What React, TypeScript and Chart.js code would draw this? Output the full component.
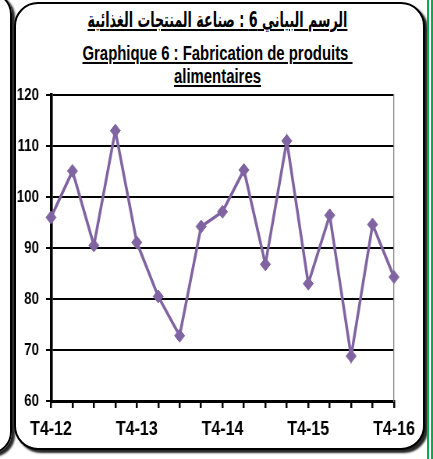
import React, { useEffect, useRef } from 'react';
import { Chart, registerables } from 'chart.js';
Chart.register(...registerables);

const categories = ['T4-12', 'T1-13', 'T2-13', 'T3-13', 'T4-13', 'T1-14', 'T2-14', 'T3-14', 'T4-14', 'T1-15', 'T2-15', 'T3-15', 'T4-15', 'T1-16', 'T2-16', 'T3-16', 'T4-16'];
const values = [96, 105.1, 90.5, 113, 91.1, 80.5, 72.8, 94.2, 97.1, 105.3, 86.8, 111, 83, 96.4, 68.8, 94.6, 84.3];
const shownLabels = ['T4-12', 'T4-13', 'T4-14', 'T4-15', 'T4-16'];
const yMin = 60;
const yMax = 120;
const yStep = 10;
const titleAr = 'الرسم البياني 6 : صناعة المنتجات الغذائية';
const titleFr1 = 'Graphique 6 : Fabrication de produits ';
const titleFr2 = 'alimentaires';

const PURPLE = '#8064A2';
const FONT = "'Liberation Sans', Arial, sans-serif";
// The reference is horizontally condensed (narrow font look): canvas is drawn wider and squeezed by CSS.
const K = 0.78;
const CSS_W = 433;
const CSS_H = 459;
const CANVAS_W = Math.round(CSS_W / K);

export default function App() {
  const ref = useRef<HTMLCanvasElement>(null);
  useEffect(() => {
    const chart = new Chart(ref.current as HTMLCanvasElement, {
      type: 'line',
      data: {
        labels: categories,
        datasets: [
          {
            data: values,
            borderColor: PURPLE,
            backgroundColor: PURPLE,
            borderWidth: 3.5,
            pointStyle: 'rectRot',
            pointRadius: 6.5,
            pointBorderWidth: 1,
            pointBorderColor: PURPLE,
            pointBackgroundColor: PURPLE,
            tension: 0,
          },
        ],
      },
      options: {
        responsive: false,
        animation: false,
        devicePixelRatio: 1,
        plugins: { legend: { display: false }, tooltip: { enabled: false }, title: { display: false } },
        layout: { padding: { top: 95, right: 39 / K, bottom: 0, left: 0 } },
        scales: {
          x: {
            offset: false,
            grid: { drawOnChartArea: false, drawTicks: true, tickLength: 7, color: '#000', lineWidth: 2.5 },
            border: { display: true, color: '#000', width: 3 },
            ticks: {
              autoSkip: false,
              maxRotation: 0,
              minRotation: 0,
              padding: 9,
              color: '#000',
              font: { size: 20.5, weight: 'bold', family: FONT },
              callback: (_v: any, i: number) => (shownLabels.includes(categories[i]) ? categories[i] : ''),
            },
            afterFit: (s: any) => {
              s.height = 58;
            },
          },
          y: {
            min: yMin,
            max: yMax,
            ticks: { stepSize: yStep, padding: 9, color: '#000', font: { size: 17, weight: 'bold', family: FONT } },
            grid: { color: '#000', lineWidth: 2, tickLength: 6.4 },
            border: { color: '#000', width: 3.6 },
            afterFit: (s: any) => {
              s.width = 51 / K;
            },
          },
          y2: {
            position: 'right',
            display: true,
            min: yMin,
            max: yMax,
            ticks: { display: false },
            grid: { drawOnChartArea: false, drawTicks: false },
            border: { color: '#808080', width: 1.3 },
            afterFit: (s: any) => {
              s.width = 0;
            },
          },
        },
      } as any,
    });
    return () => chart.destroy();
  }, []);

  const titleStyle: React.CSSProperties = {
    position: 'absolute',
    left: 12,
    width: 411,
    textAlign: 'center',
    fontFamily: FONT,
    fontWeight: 'bold',
    fontSize: 21,
    lineHeight: '25px',
    textDecoration: 'underline',
    color: '#000',
    whiteSpace: 'pre',
    transform: 'scaleX(0.71)',
    transformOrigin: 'center',
  };

  return (
    <div style={{ position: 'absolute', left: 0, top: 0, width: CSS_W, height: CSS_H, overflow: 'hidden', background: '#fff' }}>
      <div
        style={{
          position: 'absolute',
          left: -100,
          top: -8,
          width: 108,
          height: 458,
          border: '2px solid #000',
          borderRadius: 22,
          boxShadow: '3px 3px 2px rgba(0,0,0,0.85)',
        }}
      />
      <div
        style={{
          position: 'absolute',
          left: 14,
          top: 2,
          width: 407,
          height: 444,
          border: '2px solid #000',
          borderRadius: 24,
          boxShadow: '3px 3px 2px rgba(0,0,0,0.85)',
          background: '#fff',
        }}
      />
      <div style={{ position: 'absolute', left: 427, top: 0, width: 2, height: CSS_H, background: 'rgb(0,176,80)' }} />
      <div style={{ position: 'absolute', left: 431, top: 0, width: 2, height: CSS_H, background: 'rgb(0,176,80)' }} />
      <div
        dir="rtl"
        style={{ ...titleStyle, top: 8, fontFamily: "'DejaVu Sans Condensed', 'DejaVu Sans', sans-serif", transform: 'scaleX(0.67)' }}
      >
        {titleAr}
      </div>
      <div style={{ ...titleStyle, top: 39.5 }}>{titleFr1}</div>
      <div style={{ ...titleStyle, top: 63 }}>{titleFr2}</div>
      <canvas
        ref={ref}
        width={CANVAS_W}
        height={CSS_H}
        style={{ position: 'absolute', left: 0, top: 0, width: CSS_W, height: CSS_H }}
      />
    </div>
  );
}
